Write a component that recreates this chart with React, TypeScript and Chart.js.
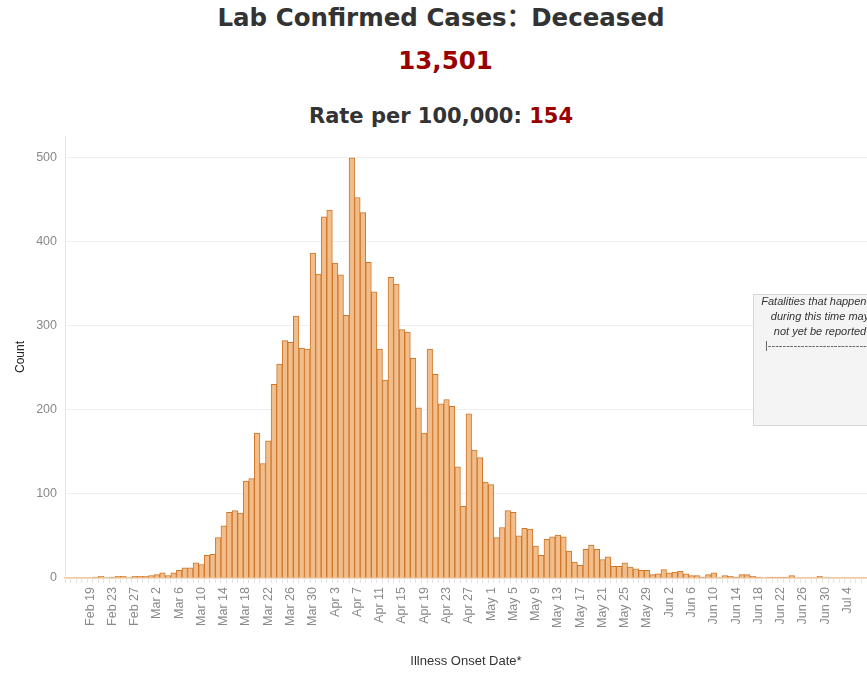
import React, { useEffect, useRef } from "react";
import { Chart, registerables } from "chart.js";

Chart.register(...registerables);

// ---- Data (deaths by illness onset date) ----
const MONTH_NAMES = ["Feb", "Mar", "Apr", "May", "Jun", "Jul"];
const MONTH_FIRST_DAY = [15, 1, 1, 1, 1, 1];

const febDeaths = [0, 0, 0, 0, 0, 1, 2, 0, 1, 2, 2, 0, 2, 2, 2]; // Feb 15 - Feb 29
const marDeaths = [
  3, 4, 6, 3, 6, 9, 12, 12, 18, 16, 27, 28, 48, 62, 78, 80, 77, 115, 118, 172,
  136, 163, 230, 254, 282, 280, 311, 273, 272, 386, 361,
];
const aprDeaths = [
  429, 437, 374, 360, 312, 499, 452, 434, 375, 340, 272, 235, 357, 349, 295,
  292, 261, 202, 172, 272, 242, 207, 212, 204, 132, 85, 195, 152, 143, 114,
];
const mayDeaths = [
  111, 48, 60, 80, 78, 50, 59, 58, 38, 27, 46, 49, 51, 49, 32, 19, 15, 34, 39,
  34, 22, 25, 14, 14, 18, 13, 11, 9, 9, 4, 5,
];
const junDeaths = [
  10, 6, 7, 8, 5, 3, 3, 1, 4, 6, 0, 3, 2, 1, 4, 4, 2, 1, 0, 1, 1, 1, 1, 3, 0,
  0, 0, 0, 2, 0,
];
const julDeaths = [0, 0, 0, 0, 0, 0, 0]; // Jul 1 - Jul 7

const Y_TICKS = [0, 100, 200, 300, 400, 500];
const LABEL_FIRST_INDEX = 4; // Feb 19
const LABEL_EVERY = 4;

const monthSeries = [febDeaths, marDeaths, aprDeaths, mayDeaths, junDeaths, julDeaths];
const categories: string[] = [];
const deaths: number[] = [];
monthSeries.forEach((arr, m) => {
  arr.forEach((v, i) => {
    categories.push(`${MONTH_NAMES[m]} ${MONTH_FIRST_DAY[m] + i}`);
    deaths.push(v);
  });
});

const TICK_FONT = "'Liberation Sans', Arial, sans-serif";

export default function App() {
  const canvasRef = useRef<HTMLCanvasElement | null>(null);

  useEffect(() => {
    if (!canvasRef.current) return;
    const chart = new Chart(canvasRef.current, {
      type: "bar",
      data: {
        labels: categories,
        datasets: [
          {
            label: "Deceased",
            data: deaths,
            backgroundColor: "#f1bd8b",
            borderColor: "#cf7628",
            borderWidth: 1,
            barPercentage: 1,
            categoryPercentage: 1,
          },
        ],
      },
      options: {
        animation: false,
        responsive: false,
        maintainAspectRatio: false,
        layout: { padding: { top: 136, left: 0, right: 0, bottom: 0 } },
        plugins: {
          legend: { display: false },
          tooltip: { enabled: false },
          title: { display: false },
        },
        scales: {
          x: {
            type: "category",
            offset: true,
            grid: {
              display: true,
              drawOnChartArea: false,
              drawTicks: true,
              tickLength: 5,
              color: "#e4e4e4",
              offset: true,
            },
            border: { display: true, color: "#f2c8a0", width: 1.5 },
            ticks: {
              autoSkip: false,
              minRotation: 90,
              maxRotation: 90,
              padding: 4,
              color: "#8a8a8a",
              font: { family: TICK_FONT, size: 12.5 },
              callback: (_v: any, i: number) =>
                i >= LABEL_FIRST_INDEX && (i - LABEL_FIRST_INDEX) % LABEL_EVERY === 0
                  ? categories[i]
                  : "",
            },
            title: {
              display: true,
              text: "Illness Onset Date*",
              color: "#333333",
              font: { family: TICK_FONT, size: 13 },
              padding: { top: 0, bottom: 4 },
            },
            afterFit: (s: any) => {
              s.height = 95;
              s.paddingLeft = 0;
              s.paddingRight = 0;
            },
          },
          y: {
            min: 0,
            max: 525,
            afterBuildTicks: (s: any) => {
              s.ticks = Y_TICKS.map((v) => ({ value: v }));
            },
            ticks: {
              padding: 8,
              color: "#8a8a8a",
              font: { family: TICK_FONT, size: 12.5 },
            },
            grid: { color: "#efefef", drawTicks: false },
            border: { display: true, color: "#e8e8e8" },
            title: {
              display: true,
              text: "Count",
              color: "#222222",
              font: { family: TICK_FONT, size: 12 },
              padding: { top: 13, bottom: 0 },
            },
            afterFit: (s: any) => {
              s.width = 65;
              s.paddingTop = 0;
              s.paddingBottom = 0;
            },
          },
        },
      } as any,
    });
    return () => chart.destroy();
  }, []);

  const titleFont = "'DejaVu Sans', 'Noto Sans CJK SC', sans-serif";

  return (
    <div
      style={{
        position: "fixed",
        left: 0,
        top: 0,
        width: 867,
        height: 673,
        overflow: "hidden",
        background: "#ffffff",
      }}
    >
      <div
        style={{
          position: "absolute",
          left: 441,
          top: 6,
          transform: "translateX(-50%)",
          whiteSpace: "nowrap",
          fontFamily: titleFont,
          fontWeight: "bold",
          fontSize: 24.5,
          lineHeight: "24.5px",
          color: "#333333",
        }}
      >
        Lab Confirmed Cases：Deceased
      </div>
      <div
        style={{
          position: "absolute",
          left: 445.5,
          top: 48.6,
          transform: "translateX(-50%)",
          whiteSpace: "nowrap",
          fontFamily: titleFont,
          fontWeight: "bold",
          fontSize: 24.5,
          lineHeight: "24.5px",
          color: "#990000",
        }}
      >
        13,501
      </div>
      <div
        style={{
          position: "absolute",
          left: 441,
          top: 105.5,
          transform: "translateX(-50%)",
          whiteSpace: "nowrap",
          fontFamily: titleFont,
          fontWeight: "bold",
          fontSize: 21,
          lineHeight: "21px",
          color: "#333333",
        }}
      >
        Rate per 100,000: <span style={{ color: "#990000" }}>154</span>
      </div>

      <canvas
        ref={canvasRef}
        width={867}
        height={673}
        style={{ position: "absolute", left: 0, top: 0, width: 867, height: 673 }}
      />

      <div
        style={{
          position: "absolute",
          left: 753,
          top: 294,
          width: 140,
          height: 132,
          boxSizing: "border-box",
          background: "#f4f4f4",
          border: "1px solid #d6d6d6",
        }}
      />
      <div
        style={{
          position: "absolute",
          left: 750,
          top: 293.7,
          width: 140,
          textAlign: "center",
          whiteSpace: "nowrap",
          fontFamily: TICK_FONT,
          fontStyle: "italic",
          fontSize: 11,
          lineHeight: "15px",
          color: "#333333",
        }}
      >
        Fatalities that happened
        <br />
        during this time may
        <br />
        not yet be reported
      </div>
      <div
        style={{
          position: "absolute",
          left: 765,
          top: 338,
          whiteSpace: "nowrap",
          fontFamily: TICK_FONT,
          fontSize: 11,
          lineHeight: "15px",
          color: "#555555",
        }}
      >
        |------------------------------------
      </div>
    </div>
  );
}
